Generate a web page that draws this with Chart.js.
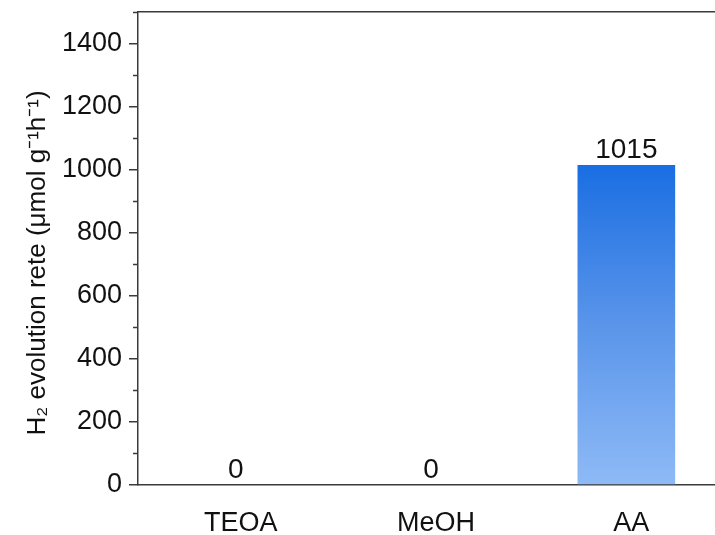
<!DOCTYPE html>
<html>
<head>
<meta charset="utf-8">
<script src="https://cdn.jsdelivr.net/npm/chart.js@4"></script>
<style>
  html, body { margin: 0; padding: 0; background: #fff; overflow: hidden; }
  #wrap { width: 724px; height: 535px; }
</style>
</head>
<body>
<div id="wrap"><canvas id="rateChart" width="724" height="535"></canvas></div>
<script>
// sacrificial agents and measured H2 rates
const categories = ['TEOA', 'MeOH', 'AA'];
const rates = [0, 0, 1015];
const yMin = 0;
const yMax = 1500;
const labelStep = 200;
const minorStep = 100;

const FONT = '"Liberation Sans", Arial, sans-serif';
const AXIS = '#3a3a3a';

// fill each bar with a top-to-base blue gradient
function barFill(ctx) {
    const chart = ctx.chart;
    if (!chart.chartArea || ctx.dataIndex === undefined) return '#4a8de8';
    const y = chart.scales.y;
    const top = y.getPixelForValue(ctx.raw || 0);
    const base = y.getPixelForValue(0);
    if (base - top < 1) return '#8ebaf6';
    const g = chart.ctx.createLinearGradient(0, top, 0, base);
    g.addColorStop(0, '#1a6ee2');
    g.addColorStop(0.5, '#5a95ea');
    g.addColorStop(1, '#8ebaf6');
    return g;
}

// short minor ticks between labelled ones
const minorTicks = {
    id: 'minorTicks',
    afterDraw(chart) {
        const y = chart.scales.y;
        const c = chart.ctx;
        c.save();
        c.strokeStyle = AXIS;
        c.lineWidth = 1.5;
        for (let v = yMin + minorStep; v <= yMax; v += labelStep) {
            const py = Math.round(y.getPixelForValue(v)) + 0.5;
            c.beginPath();
            c.moveTo(y.right - 5, py);
            c.lineTo(y.right, py);
            c.stroke();
        }
        c.restore();
    }
};

// value printed above each bar
const valueLabels = {
    id: 'valueLabels',
    afterDatasetsDraw(chart) {
        const c = chart.ctx;
        const meta = chart.getDatasetMeta(0);
        c.save();
        c.font = '28px ' + FONT;
        c.fillStyle = '#111';
        c.textAlign = 'center';
        c.textBaseline = 'alphabetic';
        meta.data.forEach((bar, i) => {
            c.fillText(String(rates[i]), bar.x, bar.y - 7);
        });
        c.restore();
    }
};

const ctxRate = document.getElementById('rateChart').getContext('2d');
const rateChart = new Chart(ctxRate, {
    type: 'bar',
    data: {
        labels: categories,
        datasets: [{
            data: rates,
            backgroundColor: barFill,
            borderWidth: 0,
            barPercentage: 0.5,
            categoryPercentage: 1
        }]
    },
    options: {
        responsive: false,
        animation: false,
        layout: { padding: { top: 12, left: 0, right: 0, bottom: 0 } },
        plugins: {
            legend: { display: false },
            tooltip: { enabled: false }
        },
        scales: {
            x: {
                position: 'bottom',
                grid: { display: false },
                border: { display: true, color: AXIS, width: 1.5 },
                ticks: { color: '#111', font: { family: FONT, size: 27 }, padding: 14, labelOffset: 5 },
                afterFit(s) { s.height = 50; s.paddingLeft = 0; s.paddingRight = 0; }
            },
            xTop: {
                type: 'category',
                position: 'top',
                grid: { display: false },
                border: { display: true, color: AXIS, width: 1.5 },
                ticks: { display: false },
                afterFit(s) { s.height = 0; s.paddingLeft = 0; s.paddingRight = 0; }
            },
            y: {
                min: yMin,
                max: yMax,
                grid: {
                    drawOnChartArea: false,
                    drawTicks: true,
                    tickLength: 9,
                    lineWidth: 1.5,
                    color: (c) => (c.tick && c.tick.value % labelStep === 0 && c.tick.value < yMax) ? AXIS : 'rgba(0,0,0,0)'
                },
                border: { display: true, color: AXIS, width: 1.5 },
                ticks: {
                    stepSize: minorStep,
                    autoSkip: false,
                    color: '#111',
                    padding: 7,
                    font: { family: FONT, size: 27 },
                    callback: (v) => (v % labelStep === 0 && v < yMax) ? String(v) : ''
                },
                title: {
                    display: true,
                    text: 'H\u2082 evolution rete (\u03bcmol g\u207b\u00b9h\u207b\u00b9)    ',
                    color: '#111',
                    font: { family: FONT, size: 26 },
                    padding: { top: 22, bottom: 0 }
                },
                afterFit(s) { s.width = 138; s.paddingTop = 0; s.paddingBottom = 0; }
            }
        }
    },
    plugins: [minorTicks, valueLabels]
});
</script>
</body>
</html>
